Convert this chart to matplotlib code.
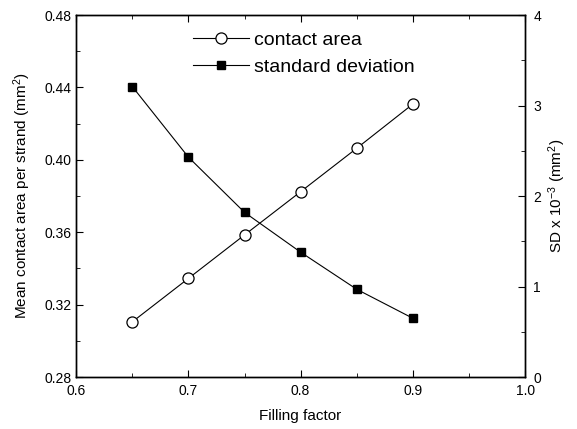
import matplotlib
matplotlib.use("Agg")
import matplotlib.pyplot as plt
from matplotlib.ticker import MultipleLocator

plt.rcParams['font.family'] = ['Liberation Sans', 'DejaVu Sans']
plt.rcParams['mathtext.fontset'] = 'custom'
plt.rcParams['mathtext.rm'] = 'Liberation Sans'
plt.rcParams['mathtext.it'] = 'Liberation Sans:italic'

filling = [0.65, 0.70, 0.75, 0.80, 0.85, 0.90]
contact_area = [0.3105, 0.3345, 0.3585, 0.3824, 0.4064, 0.4308]
sd = [3.21, 2.43, 1.82, 1.38, 0.97, 0.65]

fig = plt.figure(figsize=(5.77, 4.29), dpi=100)
ax = fig.add_axes([0.132, 0.121, 0.778, 0.844])
ax2 = ax.twinx()

l1, = ax.plot(filling, contact_area, '-o', color='black', lw=0.8, ms=8,
              mfc='white', mec='black', mew=0.9, label='contact area')
l2, = ax2.plot(filling, sd, '-s', color='black', lw=0.8, ms=6,
               mfc='black', mec='black', label='standard deviation')

ax.set_xlim(0.6, 1.0)
ax.set_ylim(0.28, 0.48)
ax2.set_ylim(0, 4)
ax.xaxis.set_major_locator(MultipleLocator(0.1))
ax.xaxis.set_minor_locator(MultipleLocator(0.05))
ax.yaxis.set_major_locator(MultipleLocator(0.04))
ax.yaxis.set_minor_locator(MultipleLocator(0.02))
ax2.yaxis.set_major_locator(MultipleLocator(1))
ax2.yaxis.set_minor_locator(MultipleLocator(0.5))
ax.xaxis.set_major_formatter(matplotlib.ticker.FormatStrFormatter('%.1f'))
ax.yaxis.set_major_formatter(matplotlib.ticker.FormatStrFormatter('%.2f'))

ax.tick_params(axis='x', which='both', direction='in', top=True, labelsize=10, pad=5)
ax.tick_params(axis='y', which='both', direction='in', labelsize=10)
ax2.tick_params(axis='y', which='both', direction='in', labelsize=10, pad=6)
for a in (ax, ax2):
    a.tick_params(which='major', length=5)
    a.tick_params(which='minor', length=3)
    for s in a.spines.values():
        s.set_linewidth(1.0)

ax.set_xlabel('Filling factor', fontsize=11, labelpad=8)
ax.set_ylabel('Mean contact area per strand (mm$^2$)', fontsize=11, labelpad=8)
ax2.set_ylabel('SD x 10$^{-3}$ (mm$^2$)', fontsize=11, labelpad=4)

ax.legend([l1, l2], ['contact area', 'standard deviation'], loc='upper left',
          bbox_to_anchor=(0.26, 0.955), frameon=False, fontsize=14,
          borderaxespad=0, borderpad=0,
          handlelength=2.9, handletextpad=0.25, labelspacing=0.5)

fig.savefig('out.png', dpi=100)
